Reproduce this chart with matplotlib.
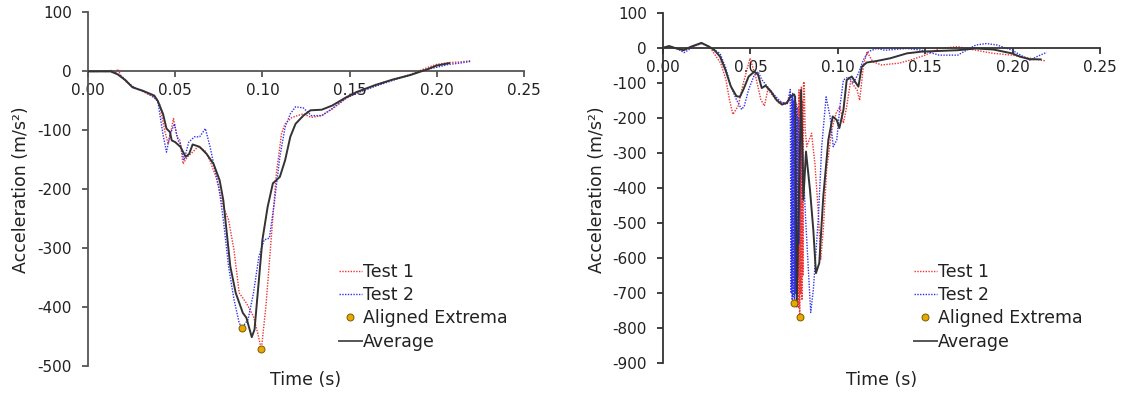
import matplotlib
matplotlib.use("Agg")
import matplotlib.pyplot as plt
from matplotlib.lines import Line2D

plt.rcParams['font.family'] = ['DejaVu Sans']

# ---------------- Left panel data ----------------
L_t1_t = [0, 0.005, 0.010, 0.014, 0.016, 0.017, 0.019, 0.022, 0.026, 0.030, 0.034, 0.038, 0.041,
          0.044, 0.046, 0.0475, 0.049, 0.051, 0.0527, 0.0545, 0.057, 0.060, 0.063, 0.067, 0.070,
          0.0735, 0.0776, 0.0806, 0.0837, 0.0867, 0.0908, 0.0949, 0.0973, 0.0994, 0.102, 0.105,
          0.108, 0.111, 0.113, 0.117, 0.1235, 0.128, 0.134, 0.140, 0.148, 0.155, 0.165, 0.175,
          0.185, 0.195, 0.200, 0.207, 0.213, 0.2194]
L_t1_a = [0, 1, 0, 2, -2, 4, -8, -18, -27, -32, -38, -44, -55,
          -101, -123, -103, -80, -111, -117, -157, -145, -137, -128, -134, -152,
          -180, -230, -252, -303, -376, -393, -416, -444, -472, -399, -286,
          -173, -105, -89, -78, -72, -78, -75, -64, -46, -35, -22, -14,
          -5, 7, 12, 15, 16, 18]

L_t2_t = [0, 0.005, 0.010, 0.014, 0.018, 0.020, 0.024, 0.028, 0.032, 0.036, 0.040, 0.043, 0.045,
          0.047, 0.0496, 0.0516, 0.053, 0.055, 0.0578, 0.061, 0.064, 0.0673, 0.070, 0.0725, 0.075,
          0.0776, 0.0806, 0.0837, 0.0867, 0.0884, 0.0918, 0.0949, 0.098, 0.101, 0.104, 0.107,
          0.110, 0.113, 0.116, 0.119, 0.1235, 0.128, 0.134, 0.140, 0.148, 0.155, 0.165, 0.175,
          0.185, 0.192, 0.200, 0.207, 0.213, 0.2194]
L_t2_a = [0, 0, 1, 0, -6, -10, -22, -30, -34, -40, -50, -107, -137,
          -107, -89, -117, -123, -151, -120, -111, -111, -97, -128, -163, -196,
          -252, -331, -387, -427, -435, -421, -376, -314, -286, -283, -219,
          -145, -95, -72, -60, -62, -75, -75, -63, -45, -36, -25, -15,
          -6, 2, 7, 12, 14, 17]

L_avg_t = [0, 0.008, 0.013, 0.017, 0.0215, 0.0255, 0.0316, 0.038, 0.040, 0.043, 0.045, 0.047,
           0.048, 0.050, 0.053, 0.056, 0.058, 0.060, 0.064, 0.068, 0.072, 0.0755, 0.0776, 0.0796,
           0.0816, 0.0847, 0.0888, 0.0908, 0.0939, 0.0955, 0.097, 0.100, 0.103, 0.106, 0.110,
           0.113, 0.116, 0.119, 0.1235, 0.1276, 0.134, 0.140, 0.148, 0.154, 0.164, 0.1745,
           0.185, 0.195, 0.200, 0.207]
L_avg_a = [0, 0, 0, -5, -15, -27, -33, -41, -50, -72, -97, -103,
           -117, -120, -128, -145, -140, -124, -128, -140, -157, -185, -219, -275,
           -331, -376, -410, -418, -451, -438, -387, -286, -230, -190, -179,
           -151, -111, -89, -75, -66, -65, -58, -44, -35, -24, -14,
           -6, 4, 10, 14]

L_ext_t = [0.0885, 0.0990]
L_ext_a = [-436, -471]

# ---------------- Right panel data ----------------
R_t1_t = [0, 0.004, 0.008, 0.012, 0.016, 0.022, 0.026, 0.028, 0.033, 0.036, 0.038, 0.040, 0.043,
          0.046, 0.0498, 0.053, 0.056, 0.058, 0.060, 0.063, 0.066, 0.070, 0.073, 0.0755, 0.0772,
          0.0775, 0.0778, 0.0781, 0.0783, 0.0786, 0.0789, 0.0792, 0.0795, 0.0798, 0.0801, 0.0804,
          0.0808, 0.0813, 0.0822, 0.085, 0.0869, 0.0889, 0.0902, 0.0917, 0.0936, 0.0965, 0.099,
          0.1012, 0.1032, 0.105, 0.1073, 0.111, 0.1125, 0.1146, 0.1167, 0.120, 0.125, 0.135,
          0.1416, 0.150, 0.158, 0.1686, 0.179, 0.189, 0.1997, 0.210, 0.2184]
R_t1_a = [0, 4, -3, -6, 2, 12, 5, -7, -44, -91, -148, -190, -166,
          -100, -30, -82, -148, -166, -119, -138, -157, -157, -148, -150, -170,
          -740, -120, -750, -767, -130, -700, -110, -720, -150, -650, -100,
          -97, -230, -282, -244, -330, -473, -605, -520, -349, -235, -187,
          -168, -215, -170, -96, -120, -150, -54, -11, -40, -49, -44,
          -35, -21, -2, 3, -7, -16, -21, -30, -37]

R_t2_t = [0, 0.004, 0.008, 0.012, 0.014, 0.018, 0.022, 0.026, 0.0326, 0.0357, 0.0388, 0.042,
          0.045, 0.0465, 0.049, 0.0523, 0.0544, 0.0565, 0.0596, 0.0627, 0.0669, 0.071, 0.0728,
          0.0733, 0.0736, 0.0739, 0.0742, 0.0745, 0.0748, 0.0752, 0.0755, 0.0758, 0.0761, 0.0764,
          0.0767, 0.0770, 0.0774, 0.0779, 0.0790, 0.0815, 0.0845, 0.086, 0.0889, 0.0908, 0.0933,
          0.0956, 0.0974, 0.0994, 0.1012, 0.1032, 0.106, 0.1089, 0.1118, 0.1146, 0.1175, 0.1222,
          0.127, 0.1395, 0.148, 0.158, 0.1686, 0.179, 0.185, 0.191, 0.1997, 0.206, 0.210, 0.214,
          0.2195]
R_t2_a = [0, 3, -2, -14, -8, 5, 12, 4, -16, -54, -110, -148,
          -176, -166, -119, -77, -68, -91, -110, -129, -152, -162, -119,
          -700, -140, -720, -130, -710, -150, -729, -140, -700, -160, -690,
          -170, -650, -200, -560, -195, -480, -755, -690, -482, -282, -140,
          -197, -282, -263, -168, -92, -83, -101, -73, -35, -11, -2,
          -7, -2, -7, -21, -21, 8, 12, 8, -7, -25, -35, -25,
          -13]

R_avg_t = [0, 0.0035, 0.0077, 0.0118, 0.016, 0.022, 0.0264, 0.0295, 0.0326, 0.0357, 0.0388,
           0.042, 0.044, 0.046, 0.049, 0.0523, 0.0544, 0.0565, 0.0586, 0.0617, 0.0648, 0.068,
           0.071, 0.073, 0.0750, 0.0756, 0.0765, 0.0790, 0.0803, 0.0818, 0.0841, 0.086, 0.0875,
           0.0894, 0.0917, 0.0946, 0.0971, 0.0994, 0.1009, 0.1032, 0.1051, 0.108, 0.1099,
           0.1118, 0.1137, 0.1166, 0.122, 0.130, 0.1395, 0.148, 0.1686, 0.179, 0.189, 0.1997,
           0.204, 0.210, 0.216]
R_avg_a = [0, 5, -2, -7, 3, 14, 3, -7, -25, -63, -110,
           -138, -140, -119, -82, -68, -77, -115, -108, -124, -148, -162,
           -157, -138, -133, -140, -738, -120, -434, -296, -406, -520, -643,
           -614, -424, -263, -196, -206, -229, -178, -92, -82, -97,
           -111, -54, -42, -38, -30, -16, -11, -7, -2, -5, -16,
           -25, -33, -33]

R_ext_t = [0.0752, 0.0783]
R_ext_a = [-729, -767]

# ---------------- Styles ----------------
C_RED = '#EE3333'
C_BLUE = '#3333EE'
C_AVG = '#333333'
C_EXT = '#E8A800'
FS_TICK = 11
FS_TEXT = 12.5
TXT = '#222222'

fig = plt.figure(figsize=(11.28, 3.95), dpi=100)
W, H = 1128, 395


def make_axes(x0, x1, ytop, ybot):
    return fig.add_axes([x0 / W, 1 - ybot / H, (x1 - x0) / W, (ybot - ytop) / H])


def style(ax, ylim, yticks, spine_color):
    ax.set_xlim(0, 0.25)
    ax.set_ylim(*ylim)
    ax.set_xticks([0, 0.05, 0.10, 0.15, 0.20, 0.25])
    ax.set_xticklabels(['0.00', '0.05', '0.10', '0.15', '0.20', '0.25'])
    ax.set_yticks(yticks)
    ax.set_yticklabels([str(v) for v in yticks])
    ax.spines['top'].set_visible(False)
    ax.spines['right'].set_visible(False)
    ax.spines['bottom'].set_position(('data', 0))
    for s in ('left', 'bottom'):
        ax.spines[s].set_color(spine_color)
        ax.spines[s].set_linewidth(1.3)
    ax.tick_params(axis='both', direction='out', length=4.5, width=1.3,
                   color=spine_color, labelsize=FS_TICK, labelcolor=TXT)
    ax.tick_params(axis='x', pad=4)
    ax.tick_params(axis='y', pad=7)
    ax.patch.set_alpha(0)


def draw(ax, t1, a1, t2, a2, ta, aa, te, ae):
    ax.plot(t1, a1, color=C_RED, lw=1.0, ls=(0, (1, 1)), zorder=2)
    ax.plot(t2, a2, color=C_BLUE, lw=1.0, ls=(0, (1, 1)), zorder=2)
    ax.plot(ta, aa, color=C_AVG, lw=1.4, zorder=3)
    ax.plot(te, ae, ls='none', marker='o', ms=5, mfc=C_EXT, mec='#7a5a00', mew=0.7, zorder=4)


def legend(ax, x_px, y_px):
    handles = [
        Line2D([], [], color=C_RED, lw=1.0, ls=(0, (1, 1))),
        Line2D([], [], color=C_BLUE, lw=1.0, ls=(0, (1, 1))),
        Line2D([], [], ls='none', marker='o', ms=5, mfc=C_EXT, mec='#7a5a00', mew=0.7),
        Line2D([], [], color='#555555', lw=1.4),
    ]
    labels = ['Test 1', 'Test 2', 'Aligned Extrema', 'Average']
    leg = ax.legend(handles, labels, loc='upper left', bbox_to_anchor=(x_px / W, 1 - y_px / H),
                    bbox_transform=fig.transFigure, frameon=False, fontsize=FS_TEXT,
                    handlelength=1.3, handletextpad=0.1, labelspacing=0.3,
                    borderpad=0, borderaxespad=0)
    for t in leg.get_texts():
        t.set_color(TXT)


# Left panel
axL = make_axes(88, 524, 12.5, 366)
draw(axL, L_t1_t, L_t1_a, L_t2_t, L_t2_a, L_avg_t, L_avg_a, L_ext_t, L_ext_a)
style(axL, (-500, 100), list(range(100, -501, -100)), '#555555')
legend(axL, 339, 263)

# Right panel
axR = make_axes(663, 1100, 12.7, 363.3)
draw(axR, R_t1_t, R_t1_a, R_t2_t, R_t2_a, R_avg_t, R_avg_a, R_ext_t, R_ext_a)
style(axR, (-900, 100), list(range(100, -901, -100)), '#333333')
legend(axR, 914, 263)

# Axis titles
fig.text(306 / W, 1 - 380 / H, 'Time (s)', ha='center', va='center', fontsize=FS_TEXT, color=TXT)
fig.text(882 / W, 1 - 380 / H, 'Time (s)', ha='center', va='center', fontsize=FS_TEXT, color=TXT)
fig.text(21 / W, 1 - 190 / H, 'Acceleration (m/s²)', ha='center', va='center', rotation=90,
         fontsize=FS_TEXT, color=TXT)
fig.text(597 / W, 1 - 190 / H, 'Acceleration (m/s²)', ha='center', va='center', rotation=90,
         fontsize=FS_TEXT, color=TXT)

fig.savefig('out.png', dpi=100)
